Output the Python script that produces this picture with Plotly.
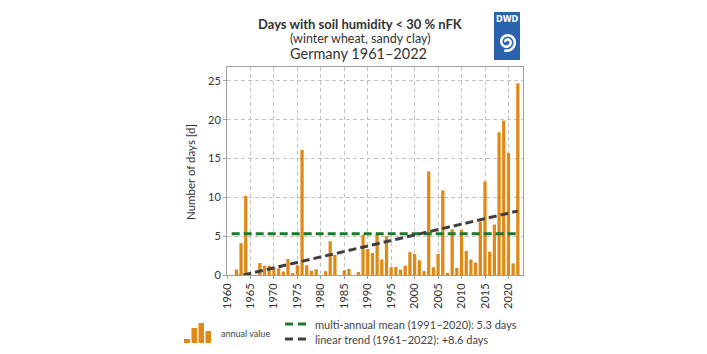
import numpy as np
import plotly.graph_objects as go

years = list(range(1961, 2023))
days = [0, 0.7, 4.1, 10.2, 0, 0, 1.55, 1.2, 1.2, 1.0,
        0.85, 0.45, 2.05, 0.2, 1.25, 16.1, 1.25, 0.55, 0.75, 0,
        0.5, 4.35, 2.6, 0, 0.6, 0.8, 0, 0.4, 5.2, 3.35,
        2.85, 5.2, 2.0, 5.0, 1.0, 1.05, 0.7, 1.2, 2.95, 2.7,
        1.9, 0.5, 13.35, 1.0, 2.7, 10.9, 0.2, 5.9, 0.9, 5.8,
        3.1, 2.0, 1.6, 6.9, 12.05, 3.0, 6.5, 18.4, 19.9, 15.75,
        1.5, 24.7]
mean_years = [1961, 2022]
mean_value = [5.3, 5.3]
trend_years = [1961, 2022]
trend_values = [-0.35, 8.25]
xticks = list(range(1960, 2021, 5))
yticks = [0, 5, 10, 15, 20, 25]

BAR = "#df8a17"
GREEN = "#1d7a2c"
TREND = "#3f3f3f"
FONT = "Lato"

# plot area in pixels
L, R, T, B = 227, 523, 67, 275
def X(px):
    return (px - L) / (R - L)
def Y(py):
    return (B - py) / (B - T)

fig = go.Figure()
fig.add_trace(go.Bar(x=years, y=days, width=0.7, marker=dict(color=BAR, line=dict(width=0)),
                     showlegend=False))
fig.add_trace(go.Scatter(x=mean_years, y=mean_value, mode="lines",
                         line=dict(color=GREEN, width=3, dash="8px,4px"), showlegend=False))
fig.add_trace(go.Scatter(x=trend_years, y=trend_values, mode="lines",
                         line=dict(color=TREND, width=3, dash="8px,4px"), showlegend=False))

shapes = []
annotations = []

# titles
annotations.append(dict(text="<b>Days with soil humidity < 30 % nFK</b>", x=X(360), y=Y(24),
                        xref="paper", yref="paper", showarrow=False, xanchor="center", yanchor="middle",
                        font=dict(family=FONT, size=13, color="#333333")))
annotations.append(dict(text="(winter wheat, sandy clay)", x=X(360), y=Y(38.5),
                        xref="paper", yref="paper", showarrow=False, xanchor="center", yanchor="middle",
                        font=dict(family=FONT, size=12.5, color="#333333")))
annotations.append(dict(text="Germany 1961–2022", x=X(358), y=Y(53.5),
                        xref="paper", yref="paper", showarrow=False, xanchor="center", yanchor="middle",
                        font=dict(family=FONT, size=14.5, color="#333333")))

# DWD logo
lx0, lx1, ly0, ly1 = 494, 520, 12, 60
shapes.append(dict(type="rect", xref="paper", yref="paper", x0=X(lx0), x1=X(lx1), y0=Y(ly1), y1=Y(ly0),
                   fillcolor="#2a62ad", line=dict(width=0), layer="above"))
annotations.append(dict(text="<b>DWD</b>", x=X(507), y=Y(20), xref="paper", yref="paper", showarrow=False,
                        xanchor="center", yanchor="middle", font=dict(family="DejaVu Sans", size=8, color="white")))
cx, cy = 507, 42
t = np.linspace(0, 3.6 * np.pi, 80)
r = 1.5 + 7.5 * t / t[-1]
pts = [(X(cx + rr * np.cos(tt + np.pi)), Y(cy + rr * np.sin(tt + np.pi))) for rr, tt in zip(r, t)]
path = "M " + " L ".join(f"{a:.5f},{b:.5f}" for a, b in pts)
shapes.append(dict(type="path", xref="paper", yref="paper", path=path,
                   line=dict(color="white", width=2.6), layer="above"))

# legend: bar icon
for x0, x1, h in [(184, 190, 4), (191.5, 197, 15), (198.5, 204, 20), (205.5, 211, 12)]:
    shapes.append(dict(type="rect", xref="paper", yref="paper", x0=X(x0), x1=X(x1), y0=Y(343), y1=Y(343 - h),
                       fillcolor=BAR, line=dict(width=0)))
annotations.append(dict(text="annual value", x=X(219), y=Y(333.5), xref="paper", yref="paper", showarrow=False,
                        xanchor="left", yanchor="middle", font=dict(family=FONT, size=9, color="#444444")))
# legend lines
for py, col, txt in [(324, GREEN, "multi-annual mean (1991–2020): 5.3 days"),
                     (339, TREND, "linear trend (1961–2022): +8.6 days")]:
    shapes.append(dict(type="line", xref="paper", yref="paper", x0=X(285), x1=X(307), y0=Y(py), y1=Y(py),
                       line=dict(color=col, width=3, dash="8px,5px")))
    annotations.append(dict(text=txt, x=X(313), y=Y(py), xref="paper", yref="paper", showarrow=False,
                            xanchor="left", yanchor="middle", font=dict(family=FONT, size=11, color="#444444")))

# y axis title
annotations.append(dict(text="Number of days [d]", x=X(190), y=Y(172), xref="paper", yref="paper",
                        showarrow=False, textangle=-90, xanchor="center", yanchor="middle",
                        font=dict(family=FONT, size=11.5, color="#333333")))

fig.update_layout(
    width=707, height=354,
    margin=dict(l=L, r=707 - R, t=T, b=354 - B),
    paper_bgcolor="white", plot_bgcolor="white",
    font=dict(family=FONT, color="#333333"),
    bargap=0.3,
    shapes=shapes, annotations=annotations,
    xaxis=dict(range=[1960, 2023.1], tickmode="array", tickvals=xticks, ticktext=[str(v) for v in xticks],
               tickangle=-90, tickfont=dict(size=11, color="#333333"),
               showgrid=True, gridcolor="#c4c4c4", griddash="4px,3px", gridwidth=1,
               showline=True, linecolor="#a0a0a0", linewidth=1, mirror=True,
               ticks="outside", ticklen=3, tickcolor="#a0a0a0", zeroline=False),
    yaxis=dict(range=[0, 26.8], tickmode="array", tickvals=yticks, ticktext=[str(v) for v in yticks],
               tickfont=dict(size=11, color="#333333"),
               showgrid=True, gridcolor="#c4c4c4", griddash="4px,3px", gridwidth=1,
               showline=True, linecolor="#a0a0a0", linewidth=1, mirror=True,
               ticks="outside", ticklen=3, tickcolor="#a0a0a0", zeroline=False),
)

fig.write_html("out.html")
